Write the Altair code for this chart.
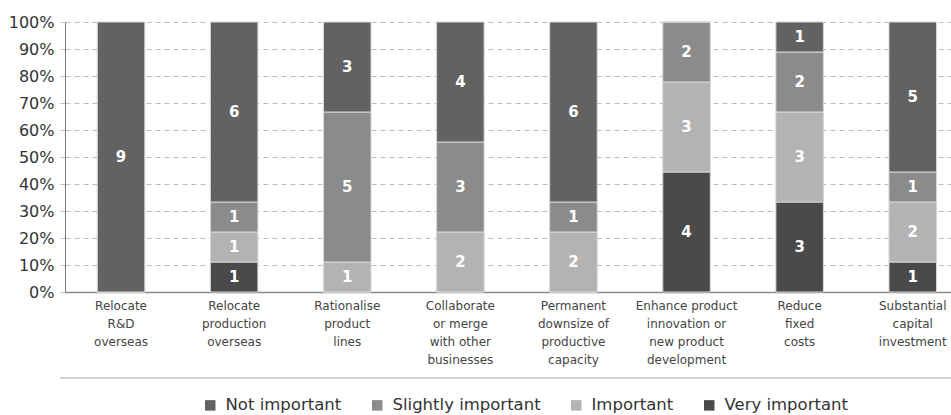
import altair as alt
import pandas as pd

# Survey responses per measure (number of firms), stacked bottom to top:
# Very important, Important, Slightly important, Not important
categories = [
    "Relocate|R&D|overseas",
    "Relocate|production|overseas",
    "Rationalise|product|lines",
    "Collaborate|or merge|with other|businesses",
    "Permanent|downsize of|productive|capacity",
    "Enhance product|innovation or|new product|development",
    "Reduce|fixed|costs",
    "Substantial|capital|investment",
]
very_important = [0, 1, 0, 0, 0, 4, 3, 1]
important = [0, 1, 1, 2, 2, 3, 3, 2]
slightly_important = [0, 1, 5, 3, 1, 2, 2, 1]
not_important = [9, 6, 3, 4, 6, 0, 1, 5]

levels = ["Very important", "Important", "Slightly important", "Not important"]
legend_order = ["Not important", "Slightly important", "Important", "Very important"]
level_colors = ["#626262", "#8b8b8b", "#b3b3b3", "#4a4a4a"]
y_ticks = [0, 0.1, 0.2, 0.3, 0.4, 0.5, 0.6, 0.7, 0.8, 0.9, 1.0]

series = [very_important, important, slightly_important, not_important]
rows = []
for rank, (level, values) in enumerate(zip(levels, series)):
    for cat, v in zip(categories, values):
        rows.append({"cat": cat, "level": level, "count": v, "rank": rank})
df = pd.DataFrame(rows)

FONT = "DejaVu Sans"

base = (
    alt.Chart(df)
    .transform_joinaggregate(total="sum(count)", groupby=["cat"])
    .transform_calculate(frac="datum.count / datum.total")
    .transform_stack(
        stack="frac",
        groupby=["cat"],
        as_=["y0", "y1"],
        sort=[alt.SortField("rank", order="ascending")],
    )
    .transform_calculate(mid="(datum.y0 + datum.y1) / 2")
)

x_axis = alt.Axis(
    labelExpr="split(datum.label, '|')",
    labelAngle=0,
    labelFont=FONT,
    labelFontSize=12,
    labelColor="#444444",
    labelLineHeight=18,
    labelPadding=8,
    labelBaseline="top",
    ticks=False,
    domainColor="#8a8a8a",
    domainWidth=1.5,
    grid=False,
    labelLimit=200,
)
x_scale = alt.Scale(paddingInner=0.58, paddingOuter=0.207, align=0.69)

y_axis = alt.Axis(
    values=y_ticks,
    format=".0%",
    labelOverlap=False,
    labelFont=FONT,
    labelFontSize=16,
    labelColor="#333333",
    labelPadding=6,
    tickSize=5,
    tickColor="#bdbdbd",
    tickDash=[5, 4],
    domainColor="#7a7a7a",
    grid=True,
    gridColor="#bdbdbd",
    gridDash=[5, 4],
    gridWidth=1,
)
y_scale = alt.Scale(domain=[0, 1], nice=False)

bars = base.mark_bar(stroke="#d6d6d6", strokeWidth=1).encode(
    x=alt.X("cat:N", sort=categories, title=None, scale=x_scale, axis=x_axis),
    y=alt.Y("y0:Q", title=None, scale=y_scale, axis=y_axis),
    y2="y1:Q",
    color=alt.Color(
        "level:N",
        scale=alt.Scale(domain=legend_order, range=level_colors),
        legend=alt.Legend(
            title=None,
            orient="none",
            direction="horizontal",
            legendX=137,
            legendY=375,
            symbolType="square",
            symbolSize=110,
            symbolStrokeWidth=0,
            labelFont=FONT,
            labelFontSize=16.5,
            labelColor="#333333",
            labelOffset=7,
            columnPadding=27,
            labelLimit=300,
        ),
    ),
)

labels = base.transform_filter("datum.count > 0").mark_text(
    color="white", font=FONT, fontSize=15, fontWeight=600, baseline="middle"
).encode(
    x=alt.X("cat:N", sort=categories, title=None, scale=x_scale, axis=x_axis),
    y=alt.Y("mid:Q", title=None, scale=y_scale, axis=y_axis),
    text="count:Q",
)

separator = alt.Chart(pd.DataFrame({"v": [0]})).mark_rule(
    color="#d4d4d4", strokeWidth=2
).encode(x=alt.value(-5), x2=alt.value(886), y=alt.value(356))

chart = (
    alt.layer(bars, labels, separator)
    .properties(
        width=886,
        height=270,
        autosize=alt.AutoSizeParams(type="none"),
        padding={"left": 65, "top": 22, "right": 0, "bottom": 123},
    )
    .configure_view(stroke=None)
)

chart.save("out.html", embed_options={"renderer": "svg", "actions": False})
